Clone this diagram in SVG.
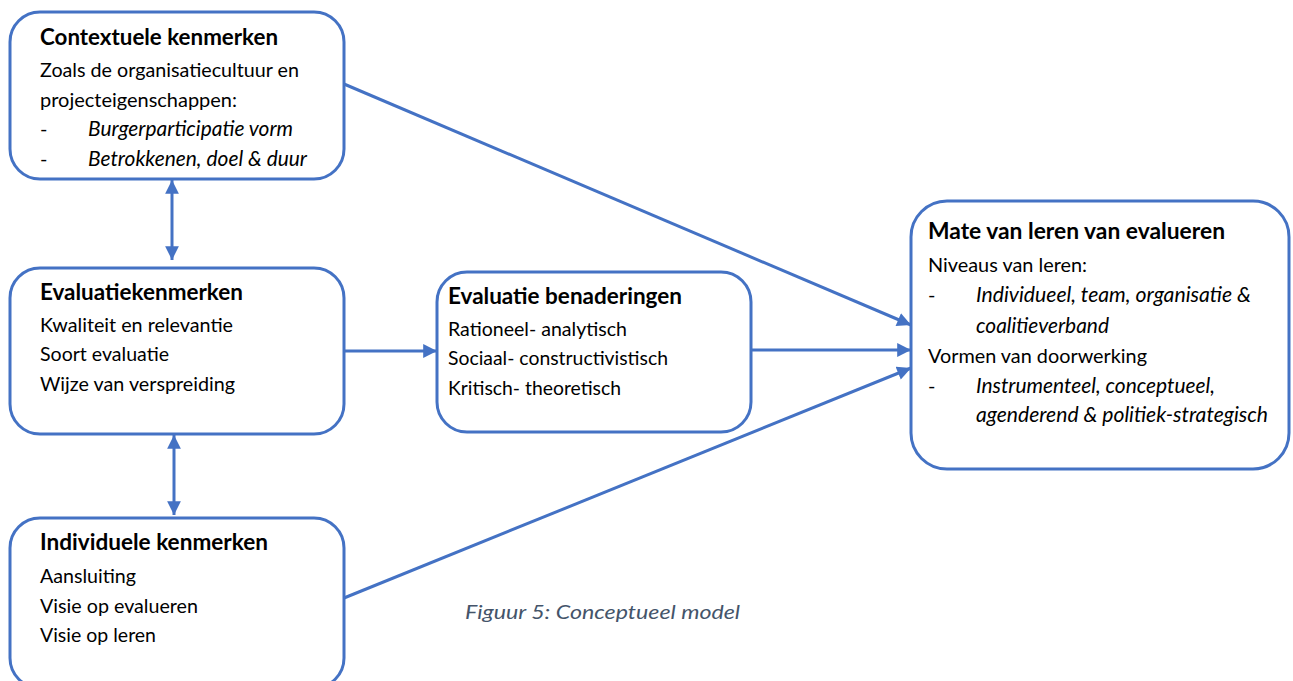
<svg xmlns="http://www.w3.org/2000/svg" width="1293" height="681" viewBox="0 0 1293 681">
<style>
.box{fill:#fff;stroke:#4472C4;stroke-width:3}
.t{font-family:Lato,"Liberation Sans",sans-serif;font-size:20px;fill:#000}
.b{font-weight:bold;font-size:22px}
.i{font-style:italic;font-size:20.5px}
.c{stroke:#4472C4;stroke-width:3;fill:none}
.cap{font-family:Lato,"Liberation Sans",sans-serif;font-size:20px;font-style:italic;fill:#44546A}
</style>
<defs>
<marker id="ah" viewBox="0 0 10 10" refX="10" refY="5" markerWidth="4.8" markerHeight="4.6" orient="auto-start-reverse" markerUnits="strokeWidth">
<path d="M0,0 L10,5 L0,10 z" fill="#4472C4"/>
</marker>
</defs>
<rect width="1293" height="681" fill="#fff"/>
<g id="connectors">
<path class="c" d="M172,180 L172,260" marker-start="url(#ah)" marker-end="url(#ah)"/>
<path class="c" d="M174,435 L174,515" marker-start="url(#ah)" marker-end="url(#ah)"/>
<path class="c" d="M344,351 L437,351" marker-end="url(#ah)"/>
<path class="c" d="M750,350 L911,350" marker-end="url(#ah)"/>
<path class="c" d="M344,84 L911,325" marker-end="url(#ah)"/>
<path class="c" d="M344,598 L911,368" marker-end="url(#ah)"/>
</g>
<g id="contextuele">
<rect class="box" x="10" y="12" width="334" height="167" rx="30"/>
<text class="t b" x="40" y="45" textLength="238" lengthAdjust="spacingAndGlyphs">Contextuele kenmerken</text>
<text class="t" x="40" y="77" textLength="259" lengthAdjust="spacingAndGlyphs">Zoals de organisatiecultuur en</text>
<text class="t" x="40" y="107" textLength="197" lengthAdjust="spacingAndGlyphs">projecteigenschappen:</text>
<text class="t" x="40" y="136">-</text>
<text class="t i" x="88" y="136" textLength="205" lengthAdjust="spacingAndGlyphs">Burgerparticipatie vorm</text>
<text class="t" x="40" y="166">-</text>
<text class="t i" x="88" y="166" textLength="219" lengthAdjust="spacingAndGlyphs">Betrokkenen, doel &amp; duur</text>
</g>
<g id="evaluatiekenmerken">
<rect class="box" x="10" y="268" width="334" height="166" rx="30"/>
<text class="t b" x="40" y="300" textLength="203" lengthAdjust="spacingAndGlyphs">Evaluatiekenmerken</text>
<text class="t" x="40" y="332" textLength="193" lengthAdjust="spacingAndGlyphs">Kwaliteit en relevantie</text>
<text class="t" x="40" y="361" textLength="129" lengthAdjust="spacingAndGlyphs">Soort evaluatie</text>
<text class="t" x="40" y="391" textLength="195" lengthAdjust="spacingAndGlyphs">Wijze van verspreiding</text>
</g>
<g id="individuele">
<rect class="box" x="10" y="518" width="334" height="170" rx="30"/>
<text class="t b" x="40" y="550" textLength="228" lengthAdjust="spacingAndGlyphs">Individuele kenmerken</text>
<text class="t" x="40" y="583" textLength="96" lengthAdjust="spacingAndGlyphs">Aansluiting</text>
<text class="t" x="40" y="613" textLength="158" lengthAdjust="spacingAndGlyphs">Visie op evalueren</text>
<text class="t" x="40" y="642" textLength="116" lengthAdjust="spacingAndGlyphs">Visie op leren</text>
</g>
<g id="benaderingen">
<rect class="box" x="437" y="272" width="314" height="160" rx="30"/>
<text class="t b" x="448" y="304" textLength="234" lengthAdjust="spacingAndGlyphs">Evaluatie benaderingen</text>
<text class="t" x="448" y="336" textLength="179" lengthAdjust="spacingAndGlyphs">Rationeel- analytisch</text>
<text class="t" x="448" y="365" textLength="220" lengthAdjust="spacingAndGlyphs">Sociaal- constructivistisch</text>
<text class="t" x="448" y="395" textLength="173" lengthAdjust="spacingAndGlyphs">Kritisch- theoretisch</text>
</g>
<g id="mate">
<rect class="box" x="911" y="201" width="378" height="268" rx="36"/>
<text class="t b" x="928" y="239" textLength="297" lengthAdjust="spacingAndGlyphs">Mate van leren van evalueren</text>
<text class="t" x="928" y="272" textLength="159" lengthAdjust="spacingAndGlyphs">Niveaus van leren:</text>
<text class="t" x="928" y="302">-</text>
<text class="t i" x="976" y="302" textLength="275" lengthAdjust="spacingAndGlyphs">Individueel, team, organisatie &amp;</text>
<text class="t i" x="976" y="333" textLength="133" lengthAdjust="spacingAndGlyphs">coalitieverband</text>
<text class="t" x="928" y="363" textLength="219" lengthAdjust="spacingAndGlyphs">Vormen van doorwerking</text>
<text class="t" x="928" y="393">-</text>
<text class="t i" x="976" y="393" textLength="239" lengthAdjust="spacingAndGlyphs">Instrumenteel, conceptueel,</text>
<text class="t i" x="976" y="422" textLength="292" lengthAdjust="spacingAndGlyphs">agenderend &amp; politiek-strategisch</text>
</g>
<text class="cap" x="465" y="619" textLength="275" lengthAdjust="spacingAndGlyphs">Figuur 5: Conceptueel model</text>
</svg>
